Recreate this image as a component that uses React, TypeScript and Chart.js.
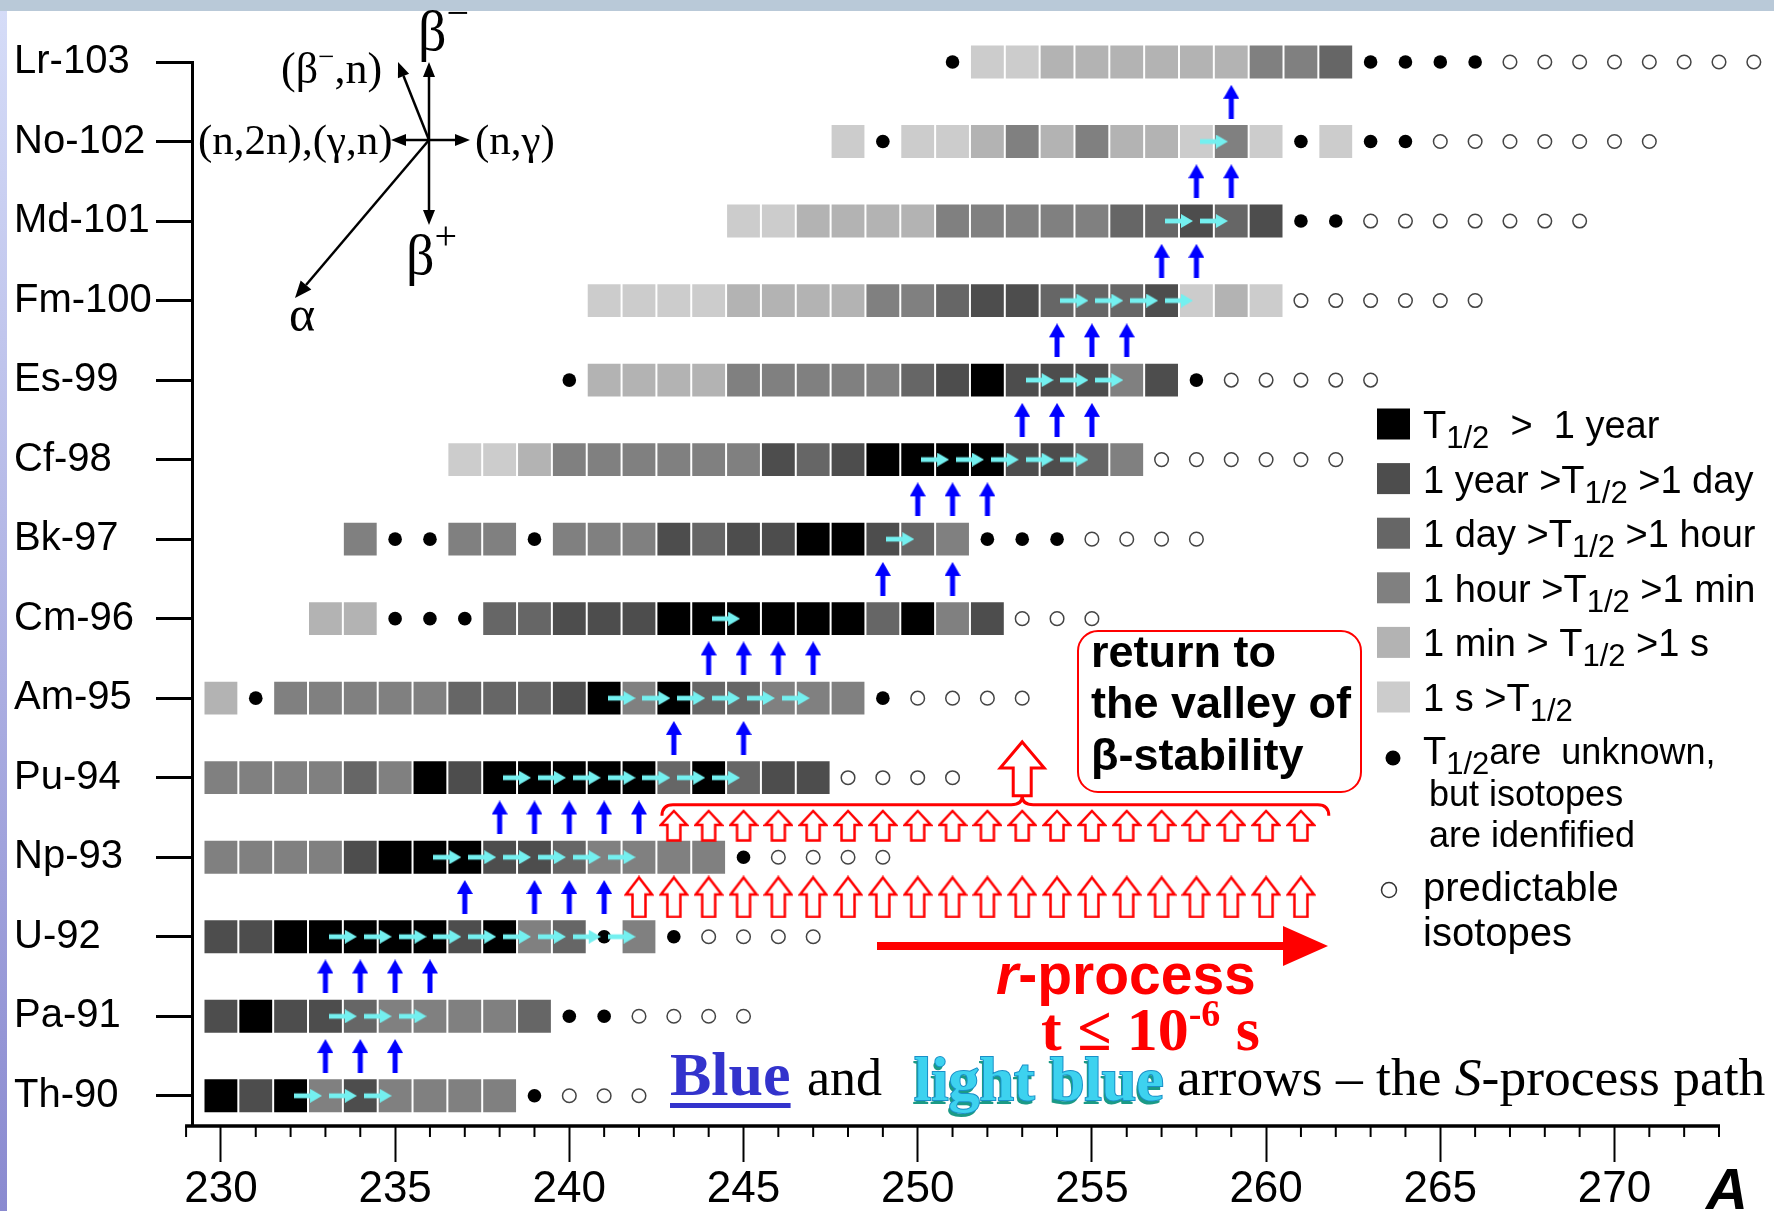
import React, { useEffect, useRef } from 'react';
import { Chart, registerables } from 'chart.js';

Chart.register(...registerables);

// ---------------- data ----------------
const ELEMENTS = ['Th-90', 'Pa-91', 'U-92', 'Np-93', 'Pu-94', 'Am-95', 'Cm-96', 'Bk-97', 'Cf-98', 'Es-99', 'Fm-100', 'Md-101', 'No-102', 'Lr-103'];
const PROTON_NUMBERS = [90, 91, 92, 93, 94, 95, 96, 97, 98, 99, 100, 101, 102, 103];
// mass number of the first entry of each row
const FIRST_MASS = [230, 230, 230, 230, 230, 230, 233, 234, 237, 240, 241, 245, 248, 251];
// one character per mass number: 0-5 = half-life class, '•' = identified, T1/2 unknown, 'o' = predicted
const ISOTOPE_CODES = [
  '010313333•ooo',
  '1011233332••oooo',
  '11000001032•3•oooo',
  '333310001123333•oooo',
  '333323010000020211oooo',
  '4•33333222103022333•oooo',
  '44•••221110000002031ooo',
  '3••33•333121100123•••oooo',
  '55433333312100001123oooooo',
  '•44443333321011131•ooooo',
  '55554444332112221545oooooo',
  '5544443333322121••ooooooo',
  '5•55434344535•5••ooooooo',
  '•55444444332••••oooooooo',
];
const HALF_LIFE_COLORS = ['#000000', '#4d4d4d', '#666666', '#808080', '#b3b3b3', '#cccccc'];
// text before and after "T1/2"
const HALF_LIFE_LABELS: [string, string][] = [
  ['', '  >  1 year'],
  ['1 year >', ' >1 day'],
  ['1 day >', ' >1 hour'],
  ['1 hour >', ' >1 min'],
  ['1 min > ', ' >1 s'],
  ['1 s >', ''],
];
// (n,γ) light-blue arrows: mass number A of the start nucleus (A -> A+1), per row
const N_CAPTURE_FROM = [
  [232, 233, 234],
  [233, 234, 235],
  [233, 234, 235, 236, 237, 238, 239, 240, 241],
  [236, 237, 238, 239, 240, 241],
  [238, 239, 240, 241, 242, 243, 244],
  [241, 242, 243, 244, 245, 246],
  [244],
  [249],
  [250, 251, 252, 253, 254],
  [253, 254, 255],
  [254, 255, 256, 257],
  [257, 258],
  [258],
  [],
];
// β- decay blue arrows: mass numbers going from row i to row i+1
const BETA_DECAY_AT = [
  [233, 234, 235],
  [233, 234, 235, 236],
  [237, 239, 240, 241],
  [238, 239, 240, 241, 242],
  [243, 245],
  [244, 245, 246, 247],
  [249, 251],
  [250, 251, 252],
  [253, 254, 255],
  [254, 255, 256],
  [257, 258],
  [258, 259],
  [259],
];
// r-process hollow arrows (mass numbers)
const R_FLOW_LOWER = [242, 243, 244, 245, 246, 247, 248, 249, 250, 251, 252, 253, 254, 255, 256, 257, 258, 259, 260, 261];
const R_FLOW_UPPER = [243, 244, 245, 246, 247, 248, 249, 250, 251, 252, 253, 254, 255, 256, 257, 258, 259, 260, 261];
const MASS_LABELS = [230, 235, 240, 245, 250, 255, 260, 265, 270];
const MASS_FIRST_TICK = 229;
const MASS_LAST_TICK = 273;

const SANS = 'Liberation Sans';
const SERIF = 'Liberation Serif';

// ---------------- helpers ----------------
function makeCanvas(w: number, h: number, draw: (c: CanvasRenderingContext2D) => void) {
  const c = document.createElement('canvas');
  c.width = w;
  c.height = h;
  draw(c.getContext('2d') as CanvasRenderingContext2D);
  return c;
}

function hollowArrowPath(ctx: CanvasRenderingContext2D, cx: number, top: number, bottom: number, headH: number, headHalf: number, shaftHalf: number) {
  ctx.beginPath();
  ctx.moveTo(cx, top);
  ctx.lineTo(cx + headHalf, top + headH);
  ctx.lineTo(cx + shaftHalf, top + headH);
  ctx.lineTo(cx + shaftHalf, bottom);
  ctx.lineTo(cx - shaftHalf, bottom);
  ctx.lineTo(cx - shaftHalf, top + headH);
  ctx.lineTo(cx - headHalf, top + headH);
  ctx.closePath();
}

function lineArrow(ctx: CanvasRenderingContext2D, x1: number, y1: number, x2: number, y2: number, headLen = 15, headHalf = 6) {
  const ang = Math.atan2(y2 - y1, x2 - x1);
  const bx = x2 - headLen * Math.cos(ang);
  const by = y2 - headLen * Math.sin(ang);
  ctx.beginPath();
  ctx.moveTo(x1, y1);
  ctx.lineTo(bx, by);
  ctx.stroke();
  ctx.beginPath();
  ctx.moveTo(x2, y2);
  ctx.lineTo(bx + headHalf * Math.sin(ang), by - headHalf * Math.cos(ang));
  ctx.lineTo(bx - headHalf * Math.sin(ang), by + headHalf * Math.cos(ang));
  ctx.closePath();
  ctx.fill();
}

type Seg = { t: string; font: string; dy?: number; color?: string };
function drawRich(ctx: CanvasRenderingContext2D, x: number, y: number, segs: Seg[]) {
  let cx = x;
  for (const s of segs) {
    ctx.font = s.font;
    if (s.color) ctx.fillStyle = s.color;
    ctx.fillText(s.t, cx, y + (s.dy || 0));
    cx += ctx.measureText(s.t).width;
  }
  return cx;
}

// ---------------- decorations plugin ----------------
const decorations = {
  id: 'decorations',
  beforeDraw(chart: any) {
    const ctx: CanvasRenderingContext2D = chart.ctx;
    const W = chart.width;
    const H = chart.height;
    ctx.save();
    ctx.fillStyle = '#ffffff';
    ctx.fillRect(0, 0, W, H);
    const g = ctx.createLinearGradient(0, 0, 0, H);
    g.addColorStop(0, '#d6ddf8');
    g.addColorStop(1, '#8a8ad0');
    ctx.fillStyle = g;
    ctx.fillRect(0, 0, 7, H);
    ctx.fillStyle = '#b9c9d8';
    ctx.fillRect(0, 0, W, 11);
    ctx.restore();
  },
  afterDraw(chart: any) {
    const ctx: CanvasRenderingContext2D = chart.ctx;
    const xs = chart.scales.x;
    const ys = chart.scales.y;
    const X = (a: number) => xs.getPixelForValue(a);
    const Y = (z: number) => ys.getPixelForValue(z);
    const base = chart.chartArea.bottom;
    ctx.save();
    ctx.textBaseline = 'alphabetic';

    // x axis line and minor ticks
    ctx.strokeStyle = '#000';
    ctx.lineWidth = 3.5;
    ctx.beginPath();
    ctx.moveTo(X(MASS_FIRST_TICK) - 1, base);
    ctx.lineTo(X(MASS_LAST_TICK) + 1, base);
    ctx.stroke();
    ctx.lineWidth = 2;
    for (let a = MASS_FIRST_TICK; a <= MASS_LAST_TICK; a++) {
      if (MASS_LABELS.includes(a)) continue;
      ctx.beginPath();
      ctx.moveTo(X(a), base);
      ctx.lineTo(X(a), base + 11);
      ctx.stroke();
    }
    ctx.fillStyle = '#000';
    ctx.font = `italic bold 58px ${SANS}`;
    ctx.fillText('A', 1706, 1209);

    // reaction cross (top left)
    const cx = 429;
    const cy = 140;
    ctx.lineWidth = 2.5;
    ctx.strokeStyle = '#000';
    ctx.fillStyle = '#000';
    lineArrow(ctx, cx, cy, cx, 62);
    lineArrow(ctx, cx, cy, cx, 225);
    lineArrow(ctx, cx, cy, 391, cy);
    lineArrow(ctx, cx, cy, 470, cy);
    lineArrow(ctx, cx, cy, 398, 62);
    lineArrow(ctx, cx, cy, 295, 298, 17, 7);
    drawRich(ctx, 418, 50, [
      { t: 'β', font: `56px ${SERIF}` },
      { t: '−', font: `40px ${SERIF}`, dy: -24 },
    ]);
    drawRich(ctx, 281, 83, [
      { t: '(β', font: `44px ${SERIF}` },
      { t: '−', font: `29px ${SERIF}`, dy: -17 },
      { t: ',n)', font: `44px ${SERIF}` },
    ]);
    ctx.font = `43px ${SERIF}`;
    ctx.fillText('(n,2n),(γ,n)', 198, 154);
    ctx.fillText('(n,γ)', 475, 154);
    drawRich(ctx, 406, 274, [
      { t: 'β', font: `56px ${SERIF}` },
      { t: '+', font: `40px ${SERIF}`, dy: -25 },
    ]);
    ctx.font = `50px ${SERIF}`;
    ctx.fillText('α', 289, 331);

    // brace and "return" hollow arrow
    const red = '#ff0000';
    ctx.strokeStyle = red;
    ctx.lineWidth = 3;
    const xL = X(242.66);
    const xR = X(261.8);
    const xM = X(253);
    const yB = Y(93.66);
    const yE = yB + 11;
    ctx.beginPath();
    ctx.moveTo(xL, yE);
    ctx.quadraticCurveTo(xL, yB, xL + 11, yB);
    ctx.lineTo(xM - 11, yB);
    ctx.quadraticCurveTo(xM, yB, xM, yB - 9);
    ctx.quadraticCurveTo(xM, yB, xM + 11, yB);
    ctx.lineTo(xR - 11, yB);
    ctx.quadraticCurveTo(xR, yB, xR, yE);
    ctx.stroke();
    ctx.fillStyle = '#fff';
    hollowArrowPath(ctx, xM, Y(94.45), yB - 9, 26, 22, 9);
    ctx.fill();
    ctx.stroke();

    // red box
    ctx.lineWidth = 2;
    ctx.beginPath();
    (ctx as any).roundRect(1078, 631, 283, 161, 20);
    ctx.stroke();
    ctx.fillStyle = '#000';
    ctx.font = `bold 45px ${SANS}`;
    ctx.textBaseline = 'middle';
    ctx.fillText('return to', 1091, 655);
    ctx.fillText('the valley of', 1091, 706);
    ctx.fillText('β-stability', 1091, 758);
    ctx.textBaseline = 'alphabetic';

    // r-process arrow and text
    ctx.strokeStyle = red;
    ctx.fillStyle = red;
    ctx.lineWidth = 8;
    ctx.beginPath();
    ctx.moveTo(877, 946);
    ctx.lineTo(1290, 946);
    ctx.stroke();
    ctx.beginPath();
    ctx.moveTo(1283, 926);
    ctx.lineTo(1328, 946);
    ctx.lineTo(1283, 966);
    ctx.closePath();
    ctx.fill();
    drawRich(ctx, 996, 994, [
      { t: 'r', font: `italic bold 57px ${SANS}`, color: red },
      { t: '-process', font: `bold 57px ${SANS}`, color: red },
    ]);
    drawRich(ctx, 1041, 1050, [
      { t: 't ≤ 10', font: `bold 62px ${SERIF}`, color: red },
      { t: '-6', font: `bold 38px ${SERIF}`, dy: -24 },
      { t: ' s', font: `bold 62px ${SERIF}` },
    ]);

    // bottom caption
    ctx.font = `bold 62px ${SERIF}`;
    ctx.fillStyle = '#3333cc';
    ctx.fillText('Blue', 670, 1095);
    const wBlue = ctx.measureText('Blue').width;
    ctx.fillRect(670, 1103, wBlue, 5);
    ctx.fillStyle = '#000';
    ctx.font = `52px ${SERIF}`;
    ctx.fillText('and', 807, 1095);
    ctx.font = `bold 62px ${SERIF}`;
    ctx.fillStyle = '#1b9a86';
    ctx.fillText('light blue', 912, 1104);
    ctx.lineWidth = 2;
    ctx.strokeStyle = '#1a8fc8';
    ctx.strokeText('light blue', 914, 1100);
    ctx.fillStyle = '#3dd2ef';
    ctx.fillText('light blue', 914, 1100);
    drawRich(ctx, 1177, 1095, [
      { t: 'arrows – the ', font: `53.5px ${SERIF}`, color: '#000' },
      { t: 'S', font: `italic 53.5px ${SERIF}` },
      { t: '-process path', font: `53.5px ${SERIF}` },
    ]);

    // legend
    const lx = 1377;
    const tx = 1423;
    HALF_LIFE_LABELS.forEach(([before, after], i) => {
      const yc = 424 + i * 54.6;
      ctx.fillStyle = HALF_LIFE_COLORS[i];
      ctx.fillRect(lx, yc - 15.5, 33, 31);
      ctx.fillStyle = '#000';
      drawRich(ctx, tx, yc + 14, [
        { t: before + 'T', font: `38px ${SANS}` },
        { t: '1/2', font: `31px ${SANS}`, dy: 10 },
        { t: after, font: `38px ${SANS}` },
      ]);
    });
    ctx.fillStyle = '#000';
    ctx.beginPath();
    ctx.arc(1393, 758, 7.5, 0, Math.PI * 2);
    ctx.fill();
    drawRich(ctx, tx, 764, [
      { t: 'T', font: `38px ${SANS}` },
      { t: '1/2', font: `31px ${SANS}`, dy: 10 },
      { t: 'are  unknown,', font: `36px ${SANS}` },
    ]);
    ctx.font = `36px ${SANS}`;
    ctx.fillText('but isotopes', 1429, 806);
    ctx.fillText('are idenfified', 1429, 847);
    ctx.strokeStyle = '#333';
    ctx.lineWidth = 1.5;
    ctx.beginPath();
    ctx.arc(1389, 890, 7.5, 0, Math.PI * 2);
    ctx.stroke();
    ctx.font = `40px ${SANS}`;
    ctx.fillText('predictable', 1423, 901);
    ctx.fillText('isotopes', 1423, 946);

    ctx.restore();
  },
};

// ---------------- component ----------------
export default function App() {
  const ref = useRef<HTMLCanvasElement>(null);

  useEffect(() => {
    const canvas = ref.current;
    if (!canvas) return;

    const cellData: { x: number; y: number }[][] = HALF_LIFE_COLORS.map(() => []);
    const knownData: { x: number; y: number }[] = [];
    const predictedData: { x: number; y: number }[] = [];
    ISOTOPE_CODES.forEach((code, i) => {
      const z = PROTON_NUMBERS[i];
      Array.from(code).forEach((ch, k) => {
        const a = FIRST_MASS[i] + k;
        if (ch === '•') knownData.push({ x: a, y: z });
        else if (ch === 'o') predictedData.push({ x: a, y: z });
        else if (ch !== ' ') cellData[Number(ch)].push({ x: a, y: z });
      });
    });
    const captureData: { x: number; y: number }[] = [];
    N_CAPTURE_FROM.forEach((list, i) => list.forEach((a) => captureData.push({ x: a + 0.5, y: PROTON_NUMBERS[i] })));
    const decayData: { x: number; y: number }[] = [];
    BETA_DECAY_AT.forEach((list, i) => list.forEach((a) => decayData.push({ x: a, y: PROTON_NUMBERS[i] + 0.5 })));
    const rLowerData = R_FLOW_LOWER.map((a) => ({ x: a, y: 92.5 }));
    const rUpperData = R_FLOW_UPPER.map((a) => ({ x: a, y: 93.4 }));

    const blueArrow = makeCanvas(16, 34, (c) => {
      c.fillStyle = '#0000ff';
      c.fillRect(5.5, 12, 5, 22);
      c.beginPath();
      c.moveTo(8, 0);
      c.lineTo(16, 14);
      c.lineTo(0, 14);
      c.closePath();
      c.fill();
    });
    const lightArrow = makeCanvas(28, 14, (c) => {
      c.fillStyle = '#74f0f0';
      c.fillRect(0, 4.6, 18, 4.8);
      c.beginPath();
      c.moveTo(16, 0);
      c.lineTo(28, 7);
      c.lineTo(16, 14);
      c.closePath();
      c.fill();
    });
    const hollow = (h: number, headH: number) =>
      makeCanvas(30, h, (c) => {
        c.strokeStyle = '#ff0000';
        c.fillStyle = '#ffffff';
        c.lineWidth = 2.5;
        c.lineJoin = 'miter';
        hollowArrowPath(c, 15, 2, h - 1.5, headH, 13, 6.5);
        c.fill();
        c.stroke();
      });
    const redLower = hollow(43, 17);
    const redUpper = hollow(33, 14);

    const cellRadius = (ctx: any) => {
      const s = ctx.chart.scales && ctx.chart.scales.x;
      const w = s ? Math.abs(s.getPixelForValue(1) - s.getPixelForValue(0)) : NaN;
      return isFinite(w) && w > 20 ? (w - 2) / (2 * Math.SQRT1_2) : 23.2;
    };

    const imageSet = (data: any[], img: HTMLCanvasElement) => ({
      data,
      clip: false,
      pointStyle: img,
      pointRadius: 10,
      pointHoverRadius: 10,
      pointBorderWidth: 0,
    });

    const datasets: any[] = [
      imageSet(captureData, lightArrow),
      imageSet(decayData, blueArrow),
      imageSet(rUpperData, redUpper),
      imageSet(rLowerData, redLower),
      {
        data: knownData,
        clip: false,
        pointStyle: 'circle',
        pointRadius: 6.8,
        pointBackgroundColor: '#000',
        pointBorderWidth: 0,
      },
      {
        data: predictedData,
        clip: false,
        pointStyle: 'circle',
        pointRadius: 6.8,
        pointBackgroundColor: '#fff',
        pointBorderColor: '#444',
        pointBorderWidth: 1.5,
      },
      ...cellData.map((data, k) => ({
        data,
        clip: false,
        pointStyle: 'rect',
        pointRadius: cellRadius,
        pointHoverRadius: cellRadius,
        pointBackgroundColor: HALF_LIFE_COLORS[k],
        pointBorderWidth: 0,
      })),
    ];

    Chart.defaults.font.family = SANS;

    const chart = new Chart(canvas, {
      type: 'scatter',
      data: { datasets },
      options: {
        responsive: false,
        animation: false,
        devicePixelRatio: 1,
        events: [],
        layout: { autoPadding: false, padding: { left: 14, top: 62, right: 1, bottom: 0 } },
        plugins: { legend: { display: false }, tooltip: { enabled: false } },
        scales: {
          x: {
            type: 'linear',
            min: 229.17,
            max: 274.55,
            afterBuildTicks: (s: any) => {
              s.ticks = MASS_LABELS.map((v) => ({ value: v }));
            },
            afterFit: (s: any) => {
              s.height = 85;
              s.paddingLeft = 0;
              s.paddingRight = 0;
            },
            border: { display: false },
            grid: { drawOnChartArea: false, tickLength: 36, tickWidth: 2, tickColor: '#000' },
            ticks: {
              autoSkip: false,
              maxRotation: 0,
              padding: 1,
              color: '#000',
              font: { family: SANS, size: 44 },
              callback: (v: any) => String(v),
            },
          },
          y: {
            type: 'linear',
            min: 89.62,
            max: 103,
            afterBuildTicks: (s: any) => {
              s.ticks = PROTON_NUMBERS.map((v) => ({ value: v }));
            },
            afterFit: (s: any) => {
              s.width = 178;
              s.paddingTop = 0;
              s.paddingBottom = 0;
            },
            border: { display: true, color: '#000', width: 3 },
            grid: { drawOnChartArea: false, tickLength: 36, tickWidth: 3, tickColor: '#000' },
            ticks: {
              crossAlign: 'far',
              padding: 0,
              color: '#000',
              font: { family: SANS, size: 40 },
              callback: (v: any) => ELEMENTS[PROTON_NUMBERS.indexOf(v)] ?? '',
            },
          },
        },
      } as any,
      plugins: [decorations],
    });

    return () => chart.destroy();
  }, []);

  return (
    <div style={{ position: 'fixed', left: 0, top: 0, width: 1774, height: 1211, background: '#fff' }}>
      <canvas ref={ref} width={1774} height={1211} style={{ display: 'block', width: 1774, height: 1211 }} />
    </div>
  );
}
